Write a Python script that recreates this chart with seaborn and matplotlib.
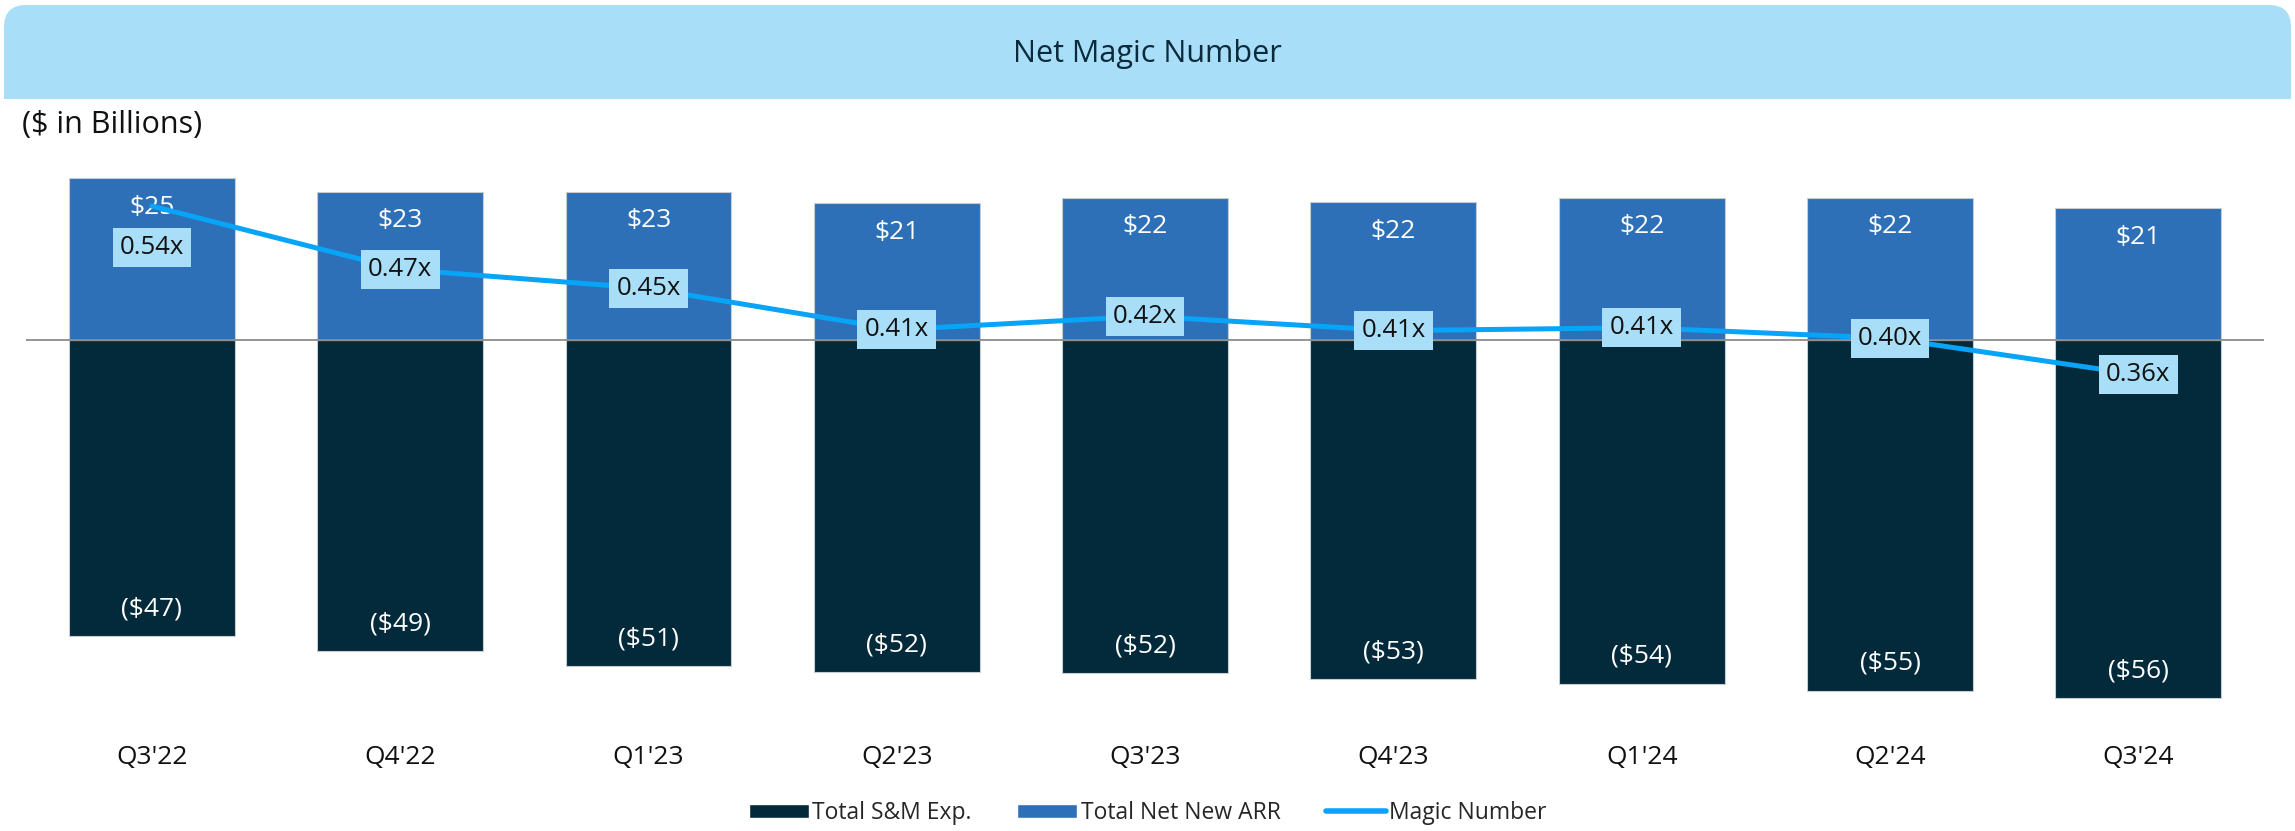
import numpy as np
import pandas as pd
import matplotlib
matplotlib.use('Agg')
import matplotlib.pyplot as plt
from matplotlib.patches import FancyBboxPatch, Rectangle, Patch
from matplotlib.lines import Line2D
import seaborn as sns

# data ($ in billions)
quarters = ["Q3'22", "Q4'22", "Q1'23", "Q2'23", "Q3'23", "Q4'23", "Q1'24", "Q2'24", "Q3'24"]
net_new_arr = [25.3, 23.2, 23.2, 21.4, 22.3, 21.6, 22.3, 22.3, 20.6]
sm_exp = [46.6, 48.9, 51.2, 52.2, 52.4, 53.3, 54.0, 55.1, 56.3]
magic_number = [0.536, 0.47, 0.45, 0.407, 0.421, 0.406, 0.409, 0.398, 0.36]

DARK = '#022A3A'
BLUE = '#2D70B7'
LINE = '#08A4F7'
LIGHT = '#A9DEF9'

W, H = 2295, 831

sns.set_style('white')
plt.rcParams['font.family'] = ['Open Sans', 'DejaVu Sans']

df = pd.DataFrame({'quarter': quarters, 'arr': net_new_arr,
                   'sm': [-v for v in sm_exp], 'magic': magic_number})

fig = plt.figure(figsize=(W / 100, H / 100), dpi=100)

# title banner with rounded top corners
fig.patches.append(FancyBboxPatch((4, H - 99), W - 8, 94, boxstyle='round,pad=0,rounding_size=22',
                                  transform=None, fc=LIGHT, ec='none', zorder=0))
fig.patches.append(Rectangle((4, H - 99), W - 8, 40, transform=None, fc=LIGHT, ec='none', zorder=0))
fig.text(0.5, 1 - 54 / H, 'Net Magic Number', ha='center', va='center', fontsize=22, color='#0B2A3C')
fig.text(22 / W, 1 - 125 / H, '($ in Billions)', ha='left', va='center', fontsize=22, color='#111111')

ax = fig.add_axes([26 / W, 1 - 720 / H, (2264 - 26) / W, (720 - 110) / H])
sns.barplot(data=df, x='quarter', y='sm', color=DARK, width=0.668, saturation=1,
            edgecolor='#c5ccd3', linewidth=0.8, ax=ax)
sns.barplot(data=df, x='quarter', y='arr', color=BLUE, width=0.668, saturation=1,
            edgecolor='#c5ccd3', linewidth=0.8, ax=ax)
ax.axhline(0, color='#8c8c8c', lw=1.3, zorder=5)
ax.set_xlim(-0.507, 8.506)
ax.set_ylim(-59.72, 36.04)
ax.set_yticks([])
ax.set_xlabel('')
ax.set_ylabel('')
ax.tick_params(axis='x', length=0, pad=18, labelsize=19, labelcolor='#111111')
for s in ax.spines.values():
    s.set_visible(False)
ax.patch.set_visible(False)

for i, v in enumerate(net_new_arr):
    ax.annotate(f'${v:.0f}', (i, v), xytext=(0, -21), textcoords='offset points',
                ha='center', va='center', color='white', fontsize=19)
for i, v in enumerate(sm_exp):
    ax.annotate(f'(${v:.0f})', (i, -v), xytext=(0, 19.5), textcoords='offset points',
                ha='center', va='center', color='white', fontsize=19)

ax2 = ax.twinx()
sns.lineplot(x=np.arange(len(quarters)), y=magic_number, color=LINE, linewidth=3.6, ax=ax2)
ax2.set_ylim(-0.0005, 0.6363)
ax2.set_yticks([])
ax2.set_ylabel('')
for s in ax2.spines.values():
    s.set_visible(False)
for i, m in enumerate(magic_number):
    dy = -30 if i == 0 else 0
    ax2.annotate(f'{m:.2f}x', (i, m), xytext=(0, dy), textcoords='offset points',
                 ha='center', va='center', color='#111111', fontsize=18.5, zorder=10,
                 bbox=dict(boxstyle='square,pad=0.28', fc=LIGHT, ec='none'))

handles = [Patch(facecolor=DARK, label='Total S&M Exp.'),
           Patch(facecolor=BLUE, label='Total Net New ARR'),
           Line2D([], [], color=LINE, lw=4, label='Magic Number')]
fig.legend(handles=handles, loc='center', bbox_to_anchor=(1148 / W, 1 - 813 / H), ncol=3,
           frameon=False, fontsize=16.5, handlelength=2.6, handleheight=0.55,
           handletextpad=0.15, columnspacing=2.0)

fig.savefig('out.png', dpi=100)
